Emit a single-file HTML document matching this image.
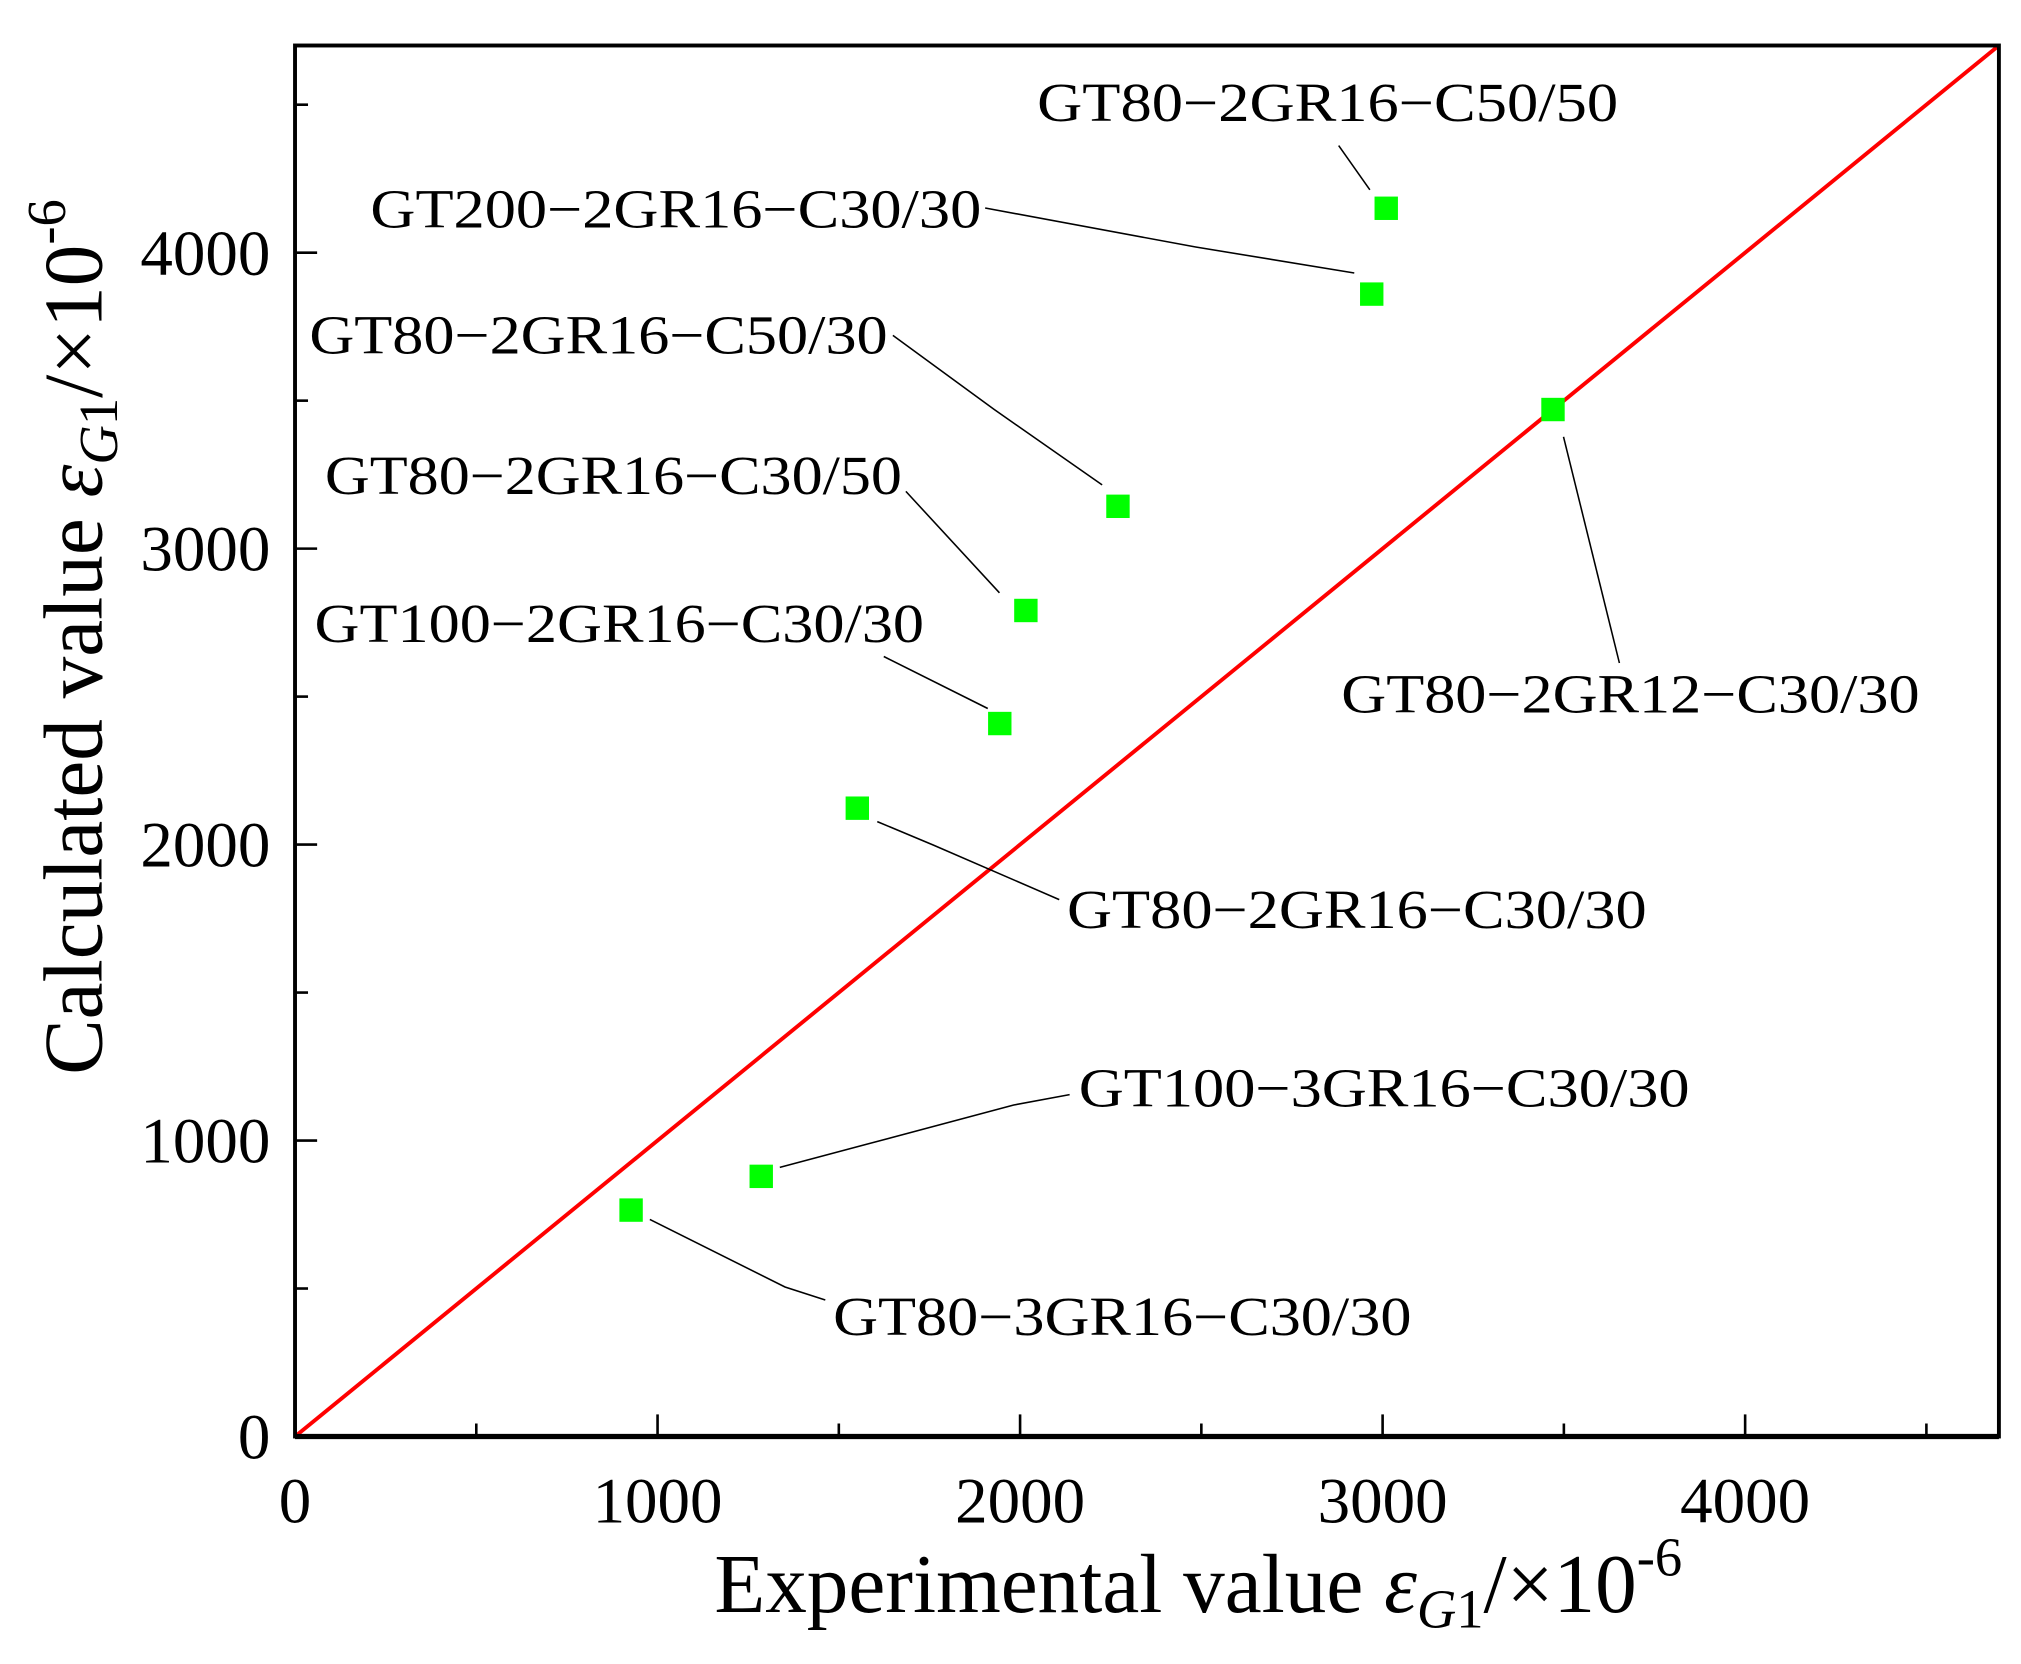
<!DOCTYPE html>
<html><head><meta charset="utf-8"><style>
html,body{margin:0;padding:0;background:#fff}
svg{display:block}
text{font-family:"Liberation Serif",serif;fill:#000}
</style></head><body>
<svg id="chart" width="2021" height="1664" viewBox="0 0 1555 1280" preserveAspectRatio="none" xmlns="http://www.w3.org/2000/svg">
<g id="g"></g>
</svg>
<script>
const expValues=[3010,2970,3470,2270,2016,1944,1551,1286,927];
const calcValues=[4150,3860,3470,3143,2791,2409,2123,879,765];
const pointNames=["GT80−2GR16−C50/50","GT200−2GR16−C30/30","GT80−2GR12−C30/30","GT80−2GR16−C50/30","GT80−2GR16−C30/50","GT100−2GR16−C30/30","GT80−2GR16−C30/30","GT100−3GR16−C30/30","GT80−3GR16−C30/30"];
const xTicks=[0,1000,2000,3000,4000];
const yTicks=[0,1000,2000,3000,4000];
const axisMax=4700;

const L=227,R=1538,T=35,B=1105;
function sx(v){return L+(v/axisMax)*(R-L);}
function sy(v){return B-(v/axisMax)*(B-T);}
const NS="http://www.w3.org/2000/svg";
const g=document.getElementById('g');
function mk(tag,attrs,parent){const e=document.createElementNS(NS,tag);for(const k in attrs)e.setAttribute(k,attrs[k]);(parent||g).appendChild(e);return e;}

const diag=mk('line',{x1:sx(0),y1:sy(0),x2:sx(axisMax),y2:sy(axisMax),stroke:'#f00','stroke-width':3});



const frame=mk('rect',{x:L,y:T,width:R-L,height:B-T,fill:'none',stroke:'#000','stroke-width':3});


const xb=mk('line',{x1:L,y1:B,x2:R,y2:B,stroke:'#000','stroke-width':4});



for(let v=0;v<=axisMax;v+=500){
  const major=v%1000===0;
  const t=mk('line',{x1:sx(v),y1:B,x2:sx(v),y2:B-(major?17:10),stroke:'#000','stroke-width':2});
  
  
  const t2=mk('line',{x1:L,y1:sy(v),x2:L+(major?17:10),y2:sy(v),stroke:'#000','stroke-width':2});
  
  
}
xTicks.forEach(v=>{
  const t=mk('text',{x:sx(v),y:1171,'font-size':50,'text-anchor':'middle'});
  t.textContent=v;
  
  
});
yTicks.forEach(v=>{
  const t=mk('text',{x:208,y:sy(v)+17,'font-size':50,'text-anchor':'end'});
  t.textContent=v;
  
  
});

const xt=mk('text',{x:922,y:1240,'font-size':64,'text-anchor':'middle'});
xt.innerHTML='Experimental value <tspan font-style="italic">ε</tspan><tspan font-style="italic" font-size="42" dy="12">G</tspan><tspan font-size="42">1</tspan><tspan dy="-12">/×10</tspan><tspan font-size="42" dy="-28">-6</tspan>';


const yt=mk('text',{x:0,y:0,'font-size':64,'text-anchor':'middle',transform:'translate(78,490) rotate(-90)'});
yt.innerHTML='Calculated value <tspan font-style="italic">ε</tspan><tspan font-style="italic" font-size="42" dy="12">G</tspan><tspan font-size="42">1</tspan><tspan dy="-12">/×10</tspan><tspan font-size="42" dy="-28">-6</tspan>';



const ann=[
 {x:798,y:93,w:447,pts:[[1030,112],[1054,146]]},
 {x:285,y:175,w:470,pts:[[758,160],[920,190],[1042,210]]},
 {x:1032,y:548,w:445,pts:[[1203,336],[1246,510]]},
 {x:238,y:272,w:445,pts:[[687,258],[765,315],[848,373]]},
 {x:250,y:380,w:444,pts:[[697,378],[769,456]]},
 {x:242,y:494,w:469,pts:[[680,505],[760,545]]},
 {x:821,y:714,w:446,pts:[[675,632],[718,650],[815,692]]},
 {x:830,y:851,w:470,pts:[[600,898],[780,850],[823,842]]},
 {x:641,y:1027,w:445,pts:[[500,938],[604,990],[635,1000]]}
];
ann.forEach((a,i)=>{
  const pl=mk('polyline',{points:a.pts.map(p=>p.join(',')).join(' '),fill:'none',stroke:'#000','stroke-width':1.2});
  
  
  const t=mk('text',{x:a.x,y:a.y,'font-size':42,textLength:a.w,lengthAdjust:'spacingAndGlyphs'});
  t.textContent=pointNames[i];
  
  
});

expValues.forEach((v,i)=>{
  const s=18;
  const r=mk('rect',{x:sx(v)-s/2,y:sy(calcValues[i])-s/2,width:s,height:s,fill:'#00ff00'});
  
  
});
</script>
</body></html>
